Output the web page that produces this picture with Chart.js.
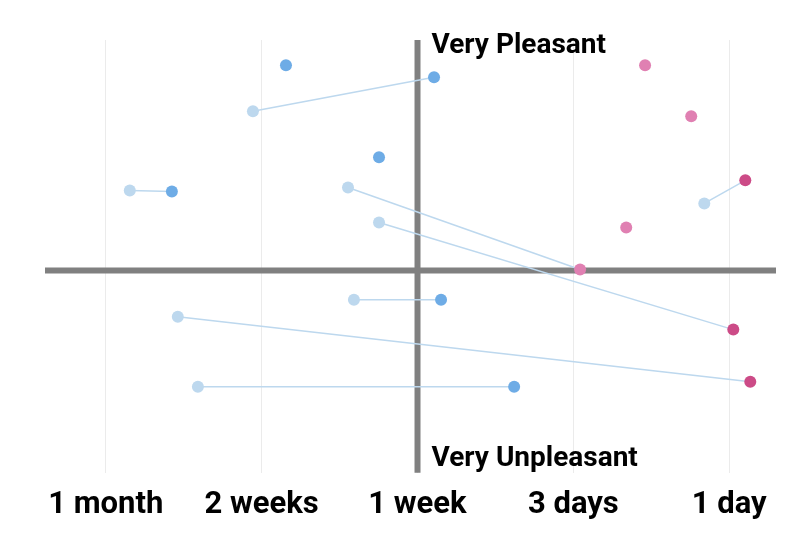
<!DOCTYPE html>
<html>
<head>
<meta charset="utf-8">
<script src="https://cdn.jsdelivr.net/npm/chart.js@4"></script>
<style>
  html, body { margin: 0; padding: 0; background: #ffffff; }
  #wrap { width: 798px; height: 556px; }
</style>
</head>
<body>
<div id="wrap"><canvas id="chart"></canvas></div>
<script>
// x: 0 = 1 month ... 4 = 1 day ; y: 0 = neutral, + pleasant, - unpleasant
const categories = ['1 month', '2 weeks', '1 week', '3 days', '1 day'];

const blueX = [1.156, 2.106, 1.753, 0.424, 2.151, 2.62];
const blueY = [1.015, 0.956, 0.560, 0.391, -0.144, -0.575];

const paleX = [0.944, 0.154, 1.554, 1.753, 3.84, 1.592, 0.462, 0.591];
const paleY = [0.788, 0.396, 0.411, 0.238, 0.332, -0.144, -0.228, -0.575];

const pinkX = [3.46, 3.756, 3.339, 3.043];
const pinkY = [1.015, 0.763, 0.213, 0.005];

const magentaX = [4.103, 4.026, 4.135];
const magentaY = [0.446, -0.292, -0.550];

// each pale point is joined to one other point
const linkSeries = ['blue', 'blue', 'pink', 'magenta', 'magenta', 'blue', 'magenta', 'blue'];
const linkIndex = [1, 3, 3, 1, 0, 4, 2, 5];

const series = {
    blue: { x: blueX, y: blueY },
    pink: { x: pinkX, y: pinkY },
    magenta: { x: magentaX, y: magentaY }
};

function toPoints(xs, ys) {
    return xs.map((x, i) => ({ x: x, y: ys[i] }));
}

const pointSets = [
    { data: toPoints(blueX, blueY), color: '#6eace6' },
    { data: toPoints(paleX, paleY), color: '#bdd8ee' },
    { data: toPoints(pinkX, pinkY), color: '#e080b2' },
    { data: toPoints(magentaX, magentaY), color: '#cc4b87' }
];

const datasets = pointSets.map(s => ({
    type: 'scatter',
    data: s.data,
    backgroundColor: s.color,
    borderWidth: 0,
    pointRadius: 6,
    pointHoverRadius: 6,
    order: 0
}));

paleX.forEach((x, i) => {
    const target = series[linkSeries[i]];
    const j = linkIndex[i];
    datasets.push({
        type: 'line',
        data: [{ x: x, y: paleY[i] }, { x: target.x[j], y: target.y[j] }],
        borderColor: '#bdd8ee',
        borderWidth: 1.5,
        pointRadius: 0,
        fill: false,
        order: 1
    });
});

const quadrantAxes = {
    id: 'quadrantAxes',
    beforeDatasetsDraw(chart) {
        const ctx = chart.ctx;
        const area = chart.chartArea;
        const x0 = chart.scales.x.getPixelForValue(2);
        const y0 = chart.scales.y.getPixelForValue(0);
        ctx.save();
        ctx.strokeStyle = '#808080';
        ctx.lineWidth = 6;
        ctx.beginPath();
        ctx.moveTo(area.left, y0);
        ctx.lineTo(area.right, y0);
        ctx.moveTo(x0, area.top);
        ctx.lineTo(x0, area.bottom);
        ctx.stroke();
        ctx.restore();
    },
    afterDraw(chart) {
        const ctx = chart.ctx;
        const area = chart.chartArea;
        const x0 = chart.scales.x.getPixelForValue(2);
        ctx.save();
        ctx.fillStyle = '#000000';
        ctx.textAlign = 'left';
        ctx.textBaseline = 'alphabetic';
        ctx.font = 'bold 28px Roboto';
        ctx.fillText('Very Pleasant', x0 + 14, area.top + 13);
        ctx.fillText('Very Unpleasant', x0 + 14, area.bottom - 7);
        ctx.restore();
    }
};

new Chart(document.getElementById('chart').getContext('2d'), {
    data: { datasets: datasets },
    options: {
        responsive: true,
        maintainAspectRatio: false,
        animation: false,
        layout: { padding: { left: 45, right: 22, top: 40, bottom: 18 } },
        plugins: {
            legend: { display: false },
            tooltip: { enabled: false }
        },
        scales: {
            x: {
                type: 'linear',
                min: -0.39,
                max: 4.3,
                afterBuildTicks(scale) {
                    scale.ticks = categories.map((c, i) => ({ value: i }));
                },
                grid: { color: '#ebebeb', lineWidth: 1, drawTicks: false },
                border: { display: false },
                ticks: {
                    padding: 14,
                    autoSkip: false,
                    maxRotation: 0,
                    color: '#000000',
                    font: { family: 'Roboto', size: 31, weight: 'bold' },
                    callback: (v) => categories[v]
                }
            },
            y: {
                type: 'linear',
                display: false,
                min: -1.0,
                max: 1.14
            }
        }
    },
    plugins: [quadrantAxes]
});
</script>
</body>
</html>
